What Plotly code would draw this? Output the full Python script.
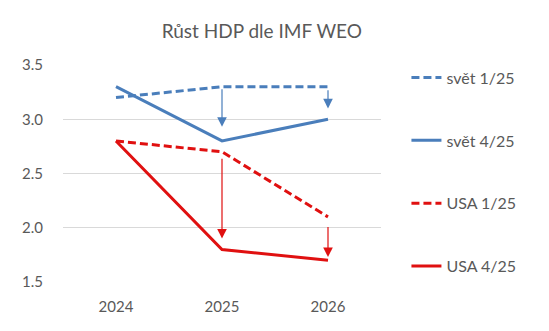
import plotly.graph_objects as go

years = [2024, 2025, 2026]
svet_1_25 = [3.2, 3.3, 3.3]
svet_4_25 = [3.3, 2.8, 3.0]
usa_1_25 = [2.8, 2.7, 2.1]
usa_4_25 = [2.8, 1.8, 1.7]

BLUE = "#4A7EBB"
RED = "#E01010"
GREY = "#595959"
FONT = "Lato"

fig = go.Figure()
series = [
    ("svět 1/25", svet_1_25, BLUE, "8px,4px"),
    ("svět 4/25", svet_4_25, BLUE, "solid"),
    ("USA 1/25", usa_1_25, RED, "8px,4px"),
    ("USA 4/25", usa_4_25, RED, "solid"),
]
for name, vals, col, dash in series:
    fig.add_trace(go.Scatter(
        x=years, y=vals, name=name, mode="lines", legendgroup=name,
        line=dict(color=col, width=3, dash=dash),
    ))

# arrows (tail -> head): (year, y_from, y_to, colour)
arrows = [
    (2025, 3.29, 2.93, BLUE),
    (2026, 3.28, 3.10, BLUE),
    (2025, 2.65, 1.90, RED),
    (2026, 2.02, 1.73, RED),
]
for yr, y0, y1, col in arrows:
    fig.add_annotation(
        x=yr, y=y1, ax=yr, ay=y0, xref="x", yref="y", axref="x", ayref="y",
        text="", showarrow=True, arrowhead=2, arrowsize=1.6, arrowwidth=1.2,
        arrowcolor=col,
    )

fig.update_layout(
    width=549, height=331,
    margin=dict(l=63, r=168, t=65, b=49),
    paper_bgcolor="white", plot_bgcolor="white",
    font=dict(family=FONT, color=GREY, size=15),
    title=dict(text="Růst HDP dle IMF WEO", x=0.477, xanchor="center",
               y=0.905, yanchor="middle", font=dict(size=19, color=GREY)),
    legend=dict(x=1.08, xanchor="left", y=1.02, yanchor="top",
                tracegroupgap=39, font=dict(size=16, color=GREY),
                itemwidth=30, maxheight=330),
    showlegend=True,
)
fig.update_xaxes(range=[2023.5, 2026.5], tickvals=years, ticktext=[str(y) for y in years],
                 showgrid=False, showline=False, zeroline=False, ticks="",
                 tickfont=dict(size=15, color=GREY), ticklabelstandoff=14)
fig.update_yaxes(range=[1.5, 3.5], dtick=0.5, tickformat=".1f",
                 showgrid=True, gridcolor="#D9D9D9", gridwidth=1, zeroline=False,
                 showline=False, ticks="", tickfont=dict(size=15, color=GREY),
                 ticklabelstandoff=19)

fig.write_html("out.html")
